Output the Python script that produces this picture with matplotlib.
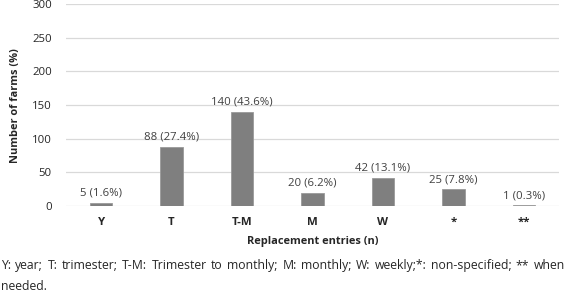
import matplotlib
matplotlib.use('Agg')
import matplotlib.pyplot as plt

categories = ['Y', 'T', 'T-M', 'M', 'W', '*', '**']
counts = [5, 88, 140, 20, 42, 25, 1]
percents = [1.6, 27.4, 43.6, 6.2, 13.1, 7.8, 0.3]
yticks = [0, 50, 100, 150, 200, 250, 300]

caption1 = 'Y: year; T: trimester; T-M: Trimester to monthly; M: monthly; W: weekly;*: non-specified; ** when'
caption2 = 'needed.'

plt.rcParams['font.family'] = ['Open Sans', 'DejaVu Sans']
txt = '#262626'
fs = 8.2

fig = plt.figure(figsize=(5.67, 2.96), dpi=100)
ax = fig.add_axes([0.116, 0.304, 0.870, 0.682])

x = range(len(categories))
ax.bar(x, counts, width=0.32, color='#7f7f7f', edgecolor='#9a9a9a', linewidth=0.6, zorder=3)
for i, (c, p) in enumerate(zip(counts, percents)):
    ax.annotate(f'{c} ({p}%)', (i, c), xytext=(0, 3), textcoords='offset points',
                ha='center', va='bottom', fontsize=fs, color='#404040')

ax.set_xlim(-0.5, len(categories) - 0.5)
ax.set_ylim(0, 300)
ax.set_yticks(yticks)
ax.set_xticks(list(x))
ax.set_xticklabels(categories, fontweight='bold')
ax.tick_params(axis='both', length=0, labelsize=fs, colors=txt)
ax.tick_params(axis='y', pad=10)
ax.tick_params(axis='x', pad=8)
ax.grid(axis='y', color='#d9d9d9', linewidth=0.9, zorder=0)
for s in ax.spines.values():
    s.set_visible(False)

ax.set_xlabel('Replacement entries (n)', fontsize=7.9, fontweight='bold', color=txt, labelpad=6)
ax.set_ylabel('Number of farms (%)', fontsize=7.9, fontweight='bold', color=txt, labelpad=8)

# justified caption line
cfs = 8.8
fig.canvas.draw()
r = fig.canvas.get_renderer()
words = caption1.split(' ')
left, right = 1, 565
items = []
total = 0
for w in words:
    t = fig.text(0, 0, w, fontsize=cfs, color=txt)
    bb = t.get_window_extent(renderer=r)
    items.append(t)
    total += bb.width
gap = (right - left - total) / (len(words) - 1)
pos = left
for t in items:
    bb = t.get_window_extent(renderer=r)
    t.set_position((pos / 567, 1 - 269 / 296))
    t.set_va('baseline')
    pos += bb.width + gap
fig.text(left / 567, 1 - 290 / 296, caption2, fontsize=cfs, color=txt, va='baseline')

fig.savefig('out.png', dpi=100)
